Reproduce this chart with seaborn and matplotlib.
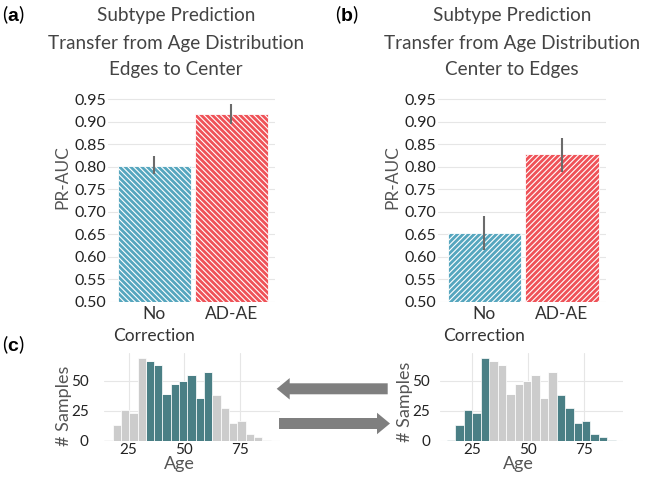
import numpy as np
import pandas as pd
import seaborn as sns
import matplotlib.pyplot as plt
from matplotlib.patches import FancyArrow

# bar panels (a) and (b)
methods = ["No\nCorrection", "AD-AE"]
auc_edges_to_center = [0.802, 0.917]
lo_edges_to_center = [0.783, 0.894]
hi_edges_to_center = [0.823, 0.938]
auc_center_to_edges = [0.652, 0.827]
lo_center_to_edges = [0.615, 0.789]
hi_center_to_edges = [0.690, 0.864]

# age histogram (c)
age_edges = [14.0, 17.75, 21.5, 25.25, 29.0, 32.75, 36.5, 40.25, 44.0, 47.75, 51.5,
             55.25, 59.0, 62.75, 66.5, 70.25, 74.0, 77.75, 81.5, 85.25, 89.0]
age_counts = [1, 13, 26, 23, 69, 66, 63, 39, 47, 50, 55, 36, 57, 38, 27, 15, 17, 6, 3, 1]
is_center = [0, 0, 0, 0, 0, 1, 1, 1, 1, 1, 1, 1, 1, 0, 0, 0, 0, 0, 0, 0]

BLUE = "#56a6be"
RED = "#ef5258"
TEAL = "#4a7f85"
LIGHT = "#cccccc"
GRID = "#e6e6e6"

sns.set_theme(style="whitegrid")
plt.rcParams["font.family"] = ["Lato", "DejaVu Sans"]
plt.rcParams["hatch.linewidth"] = 0.8
plt.rcParams["grid.color"] = GRID
plt.rcParams["mathtext.fontset"] = "custom"
plt.rcParams["mathtext.rm"] = "Liberation Sans"
plt.rcParams["mathtext.bf"] = "Liberation Sans:bold"

W, H = 653, 478
fig = plt.figure(figsize=(W / 100, H / 100), dpi=100)


def rect(x0, y0, x1, y1):
    return [x0 / W, 1 - y1 / H, (x1 - x0) / W, (y1 - y0) / H]


def bar_panel(r, vals, lo, hi, hatch):
    ax = fig.add_axes(r)
    df = pd.DataFrame({"method": methods, "auc": vals})
    sns.barplot(data=df, x="method", y="auc", hue="method", palette=[BLUE, RED],
                saturation=1, width=0.95, errorbar=None, legend=False,
                hatch=hatch, edgecolor="white", linewidth=0.6, ax=ax)
    x = np.arange(len(methods))
    v = np.array(vals)
    ax.errorbar(x, v, yerr=[v - np.array(lo), np.array(hi) - v], fmt="none",
                ecolor="#6b6b6b", elinewidth=1.5, capsize=0, zorder=5)
    ax.set_ylim(0.5, 0.96)
    ax.set_xlim(-0.6, 1.57)
    ticks = np.arange(0.5, 0.951, 0.05)
    ax.set_yticks(ticks)
    ax.set_yticklabels([f"{t:.2f}" for t in ticks])
    ax.grid(axis="x", visible=False)
    ax.grid(axis="y", color=GRID, lw=0.8)
    ax.set_axisbelow(True)
    sns.despine(ax=ax, left=True, bottom=True)
    ax.tick_params(axis="y", length=0, pad=1.5, labelsize=11.5, labelcolor="#222222")
    ax.tick_params(axis="x", length=0, pad=3, labelsize=12.5, labelcolor="#333333")
    for lab in ax.get_xticklabels():
        lab.set_linespacing(1.5)
    ax.set_xlabel("")
    ax.set_ylabel("PR-AUC", fontsize=12.5, color="#555555")
    ax.yaxis.set_label_coords(-0.225, 0.6)
    return ax


bar_panel(rect(108, 94.5, 275, 301.7), auc_edges_to_center, lo_edges_to_center,
          hi_edges_to_center, "\\" * 6)
bar_panel(rect(438, 94.5, 606, 301.7), auc_center_to_edges, lo_center_to_edges,
          hi_center_to_edges, "/" * 6)

for cx, lines in [(176, ["Subtype Prediction", "Transfer from Age Distribution", "Edges to Center"]),
                  (512, ["Subtype Prediction", "Transfer from Age Distribution", "Center to Edges"])]:
    for yy, txt in zip([15, 43, 70], lines):
        fig.text(cx / W, 1 - yy / H, txt, ha="center", va="center",
                 fontsize=13.6, color="#444444")

for px, py, letter in [(13, 15, "a"), (347, 15, "b"), (13, 345, "c")]:
    fig.text(px / W, 1 - py / H, "(" + r"$\bf{" + letter + "}$" + ")", ha="center",
             va="center", fontsize=14, color="black")

centers = [(a + b) / 2 for a, b in zip(age_edges[:-1], age_edges[1:])]
hist_df = pd.DataFrame({"age": centers, "n": age_counts, "center": is_center})


def hist_panel(r, highlight_center, xlim, ypad, ylab_x, ylab_y, xlab_x):
    ax = fig.add_axes(r)
    grp = hist_df["center"] if highlight_center else 1 - hist_df["center"]
    d = hist_df.assign(grp=grp.map({1: "hi", 0: "lo"}))
    sns.histplot(data=d, x="age", weights="n", bins=age_edges, hue="grp",
                 palette={"hi": TEAL, "lo": LIGHT}, multiple="stack", alpha=1,
                 edgecolor="white", linewidth=0.5, legend=False, ax=ax)
    ax.set_xlim(*xlim)
    ax.set_ylim(0, 73)
    ax.set_xticks([25, 50, 75])
    ax.set_yticks([0, 25, 50])
    ax.grid(color=GRID, lw=0.8)
    ax.set_axisbelow(True)
    sns.despine(ax=ax, left=True, bottom=True)
    ax.tick_params(axis="y", length=0, pad=ypad, labelsize=11, labelcolor="#222222")
    ax.tick_params(axis="x", length=0, pad=1.5, labelsize=11, labelcolor="#222222")
    ax.set_xlabel("Age", fontsize=13, color="#555555")
    ax.set_ylabel("# Samples", fontsize=13, color="#555555")
    ax.xaxis.set_label_coords(xlab_x, -0.17)
    ax.yaxis.set_label_coords(ylab_x, ylab_y)
    return ax


hist_panel(rect(104, 353, 280, 441), True, (13.9, 93.2), 11, -0.18, 0.40, 0.43)
hist_panel(rect(440, 353, 623, 441), False, (10.9, 92.2), 7, -0.148, 0.45, 0.426)

# arrows between histograms
ov = fig.add_axes([0, 0, 1, 1])
ov.set_xlim(0, W)
ov.set_ylim(H, 0)
ov.axis("off")
ov.add_patch(FancyArrow(387.7, 388.8, -111, 0, width=11, head_width=21.5, head_length=13,
                        length_includes_head=True, color="#7f7f7f", lw=0))
ov.add_patch(FancyArrow(279, 423.5, 111, 0, width=11, head_width=21.5, head_length=13,
                        length_includes_head=True, color="#7f7f7f", lw=0))

fig.savefig("out.png", dpi=100)
